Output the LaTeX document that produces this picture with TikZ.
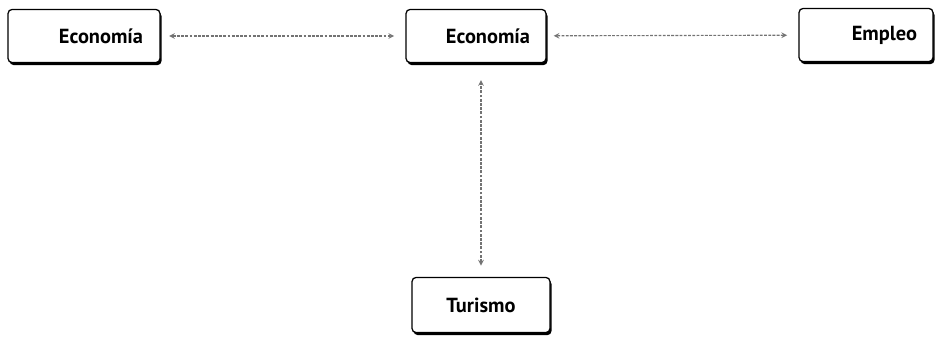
\documentclass[tikz,border=0pt]{standalone}
\usepackage{fontspec}
\setmainfont{PT Sans}
\usetikzlibrary{shadows}

\tikzset{
  caja/.style={draw=black, line width=0.9pt, fill=white, rounded corners=3pt,
    minimum height=1.33cm, inner sep=0pt, font=\fontsize{14.5}{16}\selectfont\bfseries,
    drop shadow={fill=black, opacity=1, shadow xshift=1.1pt, shadow yshift=-1.8pt}},
  flecha/.style={<->, draw=black!55, line width=0.8pt, dash pattern=on 2pt off 1pt}
}

\begin{document}
\begin{tikzpicture}[x=0.025cm, y=-0.025cm, >=stealth]

    \useasboundingbox (0,0) rectangle (943,337);

    \node[caja, minimum width=3.8cm, text width=2.95cm, align=right] (econ1) at (84, 36) {Economía};
    \node[caja, minimum width=3.5cm, text width=2.7cm, align=right] (econ2) at (476, 36) {Economía};
    \node[caja, minimum width=3.35cm, text width=2.55cm, align=right] (empleo) at (866, 35) {Empleo};
    \node[caja, minimum width=3.45cm, minimum height=1.38cm, align=center] (turismo) at (481, 305) {Turismo};

    \draw [flecha, shorten <=6pt, shorten >=8pt] (econ1) to (econ2);
    \draw [flecha, shorten <=5pt, shorten >=8pt] (econ2) to (empleo);
    \draw [flecha, shorten <=8pt, shorten >=12pt] (turismo.north) to (turismo.north |- econ2.south);

\end{tikzpicture}
\end{document}
